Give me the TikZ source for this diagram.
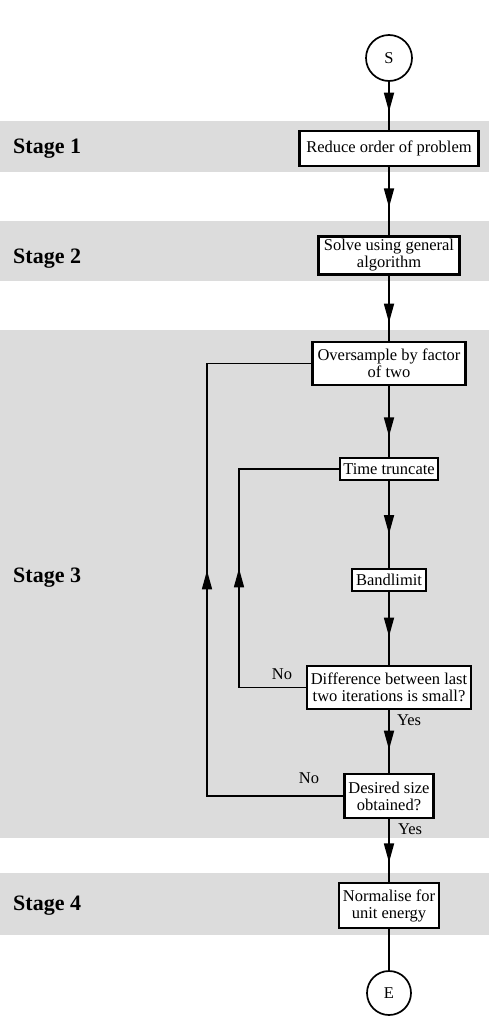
\documentclass[tikz,border=0pt]{standalone}
\usepackage{fontspec}
\setmainfont{Liberation Serif}
\usetikzlibrary{arrows.meta,decorations.markings}
\definecolor{bandgray}{RGB}{220,220,220}
\newcommand\boxfont{\fontsize{16.5}{17}\selectfont}
\newcommand\stagefont{\fontsize{22}{24}\selectfont\bfseries}
\tikzset{
  band/.style={fill=bandgray, draw=none},
  box/.style={draw, line width=2.2pt, fill=white, align=center, inner sep=0pt, font=\boxfont},
  term/.style={draw, circle, line width=1.7pt, fill=white, minimum size=46pt, inner sep=0pt, font=\boxfont},
  flow/.style={line width=1.7pt, postaction={decorate},
    decoration={markings, mark=at position #1 with {\arrow{Triangle[width=10pt,length=19pt]}}}},
  flow/.default=0.62,
  plainline/.style={line width=1.7pt},
  stagelbl/.style={anchor=base west, font=\stagefont, inner sep=0pt},
  lbl/.style={font=\boxfont, inner sep=0pt}
}
\begin{document}
\begin{tikzpicture}[x=1pt,y=-1pt]
\useasboundingbox (0,0) rectangle (489,1028);
% bands
\fill[band] (0,121) rectangle (489,172);
\fill[band] (0,221) rectangle (489,281);
\fill[band] (0,330) rectangle (489,838);
\fill[band] (0,873) rectangle (489,935);
% stage labels
\node[stagelbl] (st1) at (13,153) {Stage 1};
\node[stagelbl] (st2) at (13,263) {Stage 2};
\node[stagelbl] (st3) at (13,582) {Stage 3};
\node[stagelbl] (st4) at (13,910) {Stage 4};
% nodes
\node[term] (s) at (389,58) {S};
\node[box, minimum width=179pt, minimum height=35pt] (red) at (389,148.5) {Reduce order of problem};
\node[box, minimum width=141pt, minimum height=38pt] (solve) at (389,255.5) {Solve using general\\algorithm};
\node[box, minimum width=153pt, minimum height=43pt] (ovs) at (389,363.5) {Oversample by factor\\of two};
\node[box, minimum width=98pt, minimum height=22pt] (time) at (389,469) {Time truncate};
\node[box, minimum width=74pt, minimum height=22pt] (bl) at (389,580) {Bandlimit};
\node[box, minimum width=164pt, minimum height=43pt] (diff) at (389,687.5) {Difference between last\\two iterations is small?};
\node[box, minimum width=89pt, minimum height=44pt] (des) at (389,796) {Desired size\\obtained?};
\node[box, minimum width=100pt, minimum height=45pt] (norm) at (389,905.5) {Normalise for\\unit energy};
\node[term, minimum size=44pt] (e) at (389,993) {E};
% main flow
\draw[flow=0.62] (s.south) -- (red.north);
\draw[flow=0.59] (red.south) -- (solve.north);
\draw[flow=0.72] (solve.south) -- (ovs.north);
\draw[flow=0.71] (ovs.south) -- (time.north);
\draw[flow=0.61] (time.south) -- (bl.north);
\draw[flow=0.61] (bl.south) -- (diff.north);
\draw[flow=0.63] (diff.south) -- (des.north);
\draw[flow=0.69] (des.south) -- (norm.north);
\draw[plainline] (norm.south) -- (e.north);
% loops
\coordinate (o1) at (207,796);
\coordinate (o2) at (207,363.5);
\coordinate (i1) at (239,687.5);
\coordinate (i2) at (239,469);
\draw[line width=1.7pt, line join=miter, postaction={decorate},
  decoration={markings, mark=at position 362pt with {\arrow{Triangle[width=10pt,length=19pt]}}}]
  (des.west) -- (o1) -- (o2) -- (ovs.west);
\draw[line width=1.7pt, line join=miter, postaction={decorate},
  decoration={markings, mark=at position 186pt with {\arrow{Triangle[width=10pt,length=19pt]}}}]
  (diff.west) -- (i1) -- (i2) -- (time.west);
% branch labels
\node[lbl] (no1) at (282,674) {No};
\node[lbl] (no2) at (309,778) {No};
\node[lbl] (yes1) at (409,720) {Yes};
\node[lbl] (yes2) at (410,829) {Yes};
\end{tikzpicture}
\end{document}
